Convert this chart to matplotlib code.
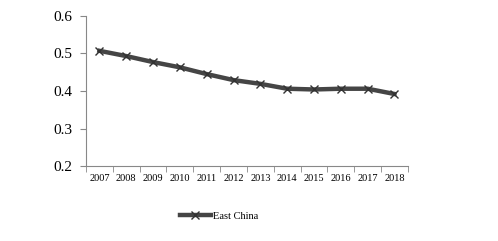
import matplotlib
matplotlib.use("Agg")
import matplotlib.pyplot as plt
import numpy as np

years = ["2007", "2008", "2009", "2010", "2011", "2012",
         "2013", "2014", "2015", "2016", "2017", "2018"]
east_china = [0.507, 0.493, 0.477, 0.463, 0.445, 0.429,
              0.419, 0.406, 0.404, 0.406, 0.406, 0.392]

plt.rcParams['font.family'] = ['Liberation Serif', 'DejaVu Serif']

fig = plt.figure(figsize=(4.98, 2.41), dpi=100)
ax = fig.add_axes([0.1727, 0.311, 0.6463, 0.623])

x = np.arange(len(years))
ax.plot(x, east_china, color="#454545", linewidth=3.2, marker="x",
        markersize=6, markeredgecolor="#333333", markeredgewidth=1.0,
        label="East China")

ax.set_xlim(-0.5, len(years) - 0.5)
ax.set_ylim(0.2, 0.6)
ax.set_yticks([0.2, 0.3, 0.4, 0.5, 0.6])
ax.set_yticklabels(["0.2", "0.3", "0.4", "0.5", "0.6"], fontsize=11)
ax.set_xticks(x)
ax.set_xticklabels(years, fontsize=7.5)
ax.set_xticks(np.arange(-0.5, len(years)), minor=True)
ax.tick_params(axis="x", which="major", length=0, pad=6)
ax.tick_params(axis="x", which="minor", length=4, color="#888888", direction="out")
ax.tick_params(axis="y", length=4, color="#888888", pad=6)

for s in ["top", "right"]:
    ax.spines[s].set_visible(False)
for s in ["left", "bottom"]:
    ax.spines[s].set_color("#888888")
    ax.spines[s].set_linewidth(0.8)

fig.legend(loc="center", bbox_to_anchor=(0.44, 0.104), frameon=False,
           fontsize=7.5, handlelength=3, handletextpad=0.2)

fig.savefig("out.png", dpi=100)
